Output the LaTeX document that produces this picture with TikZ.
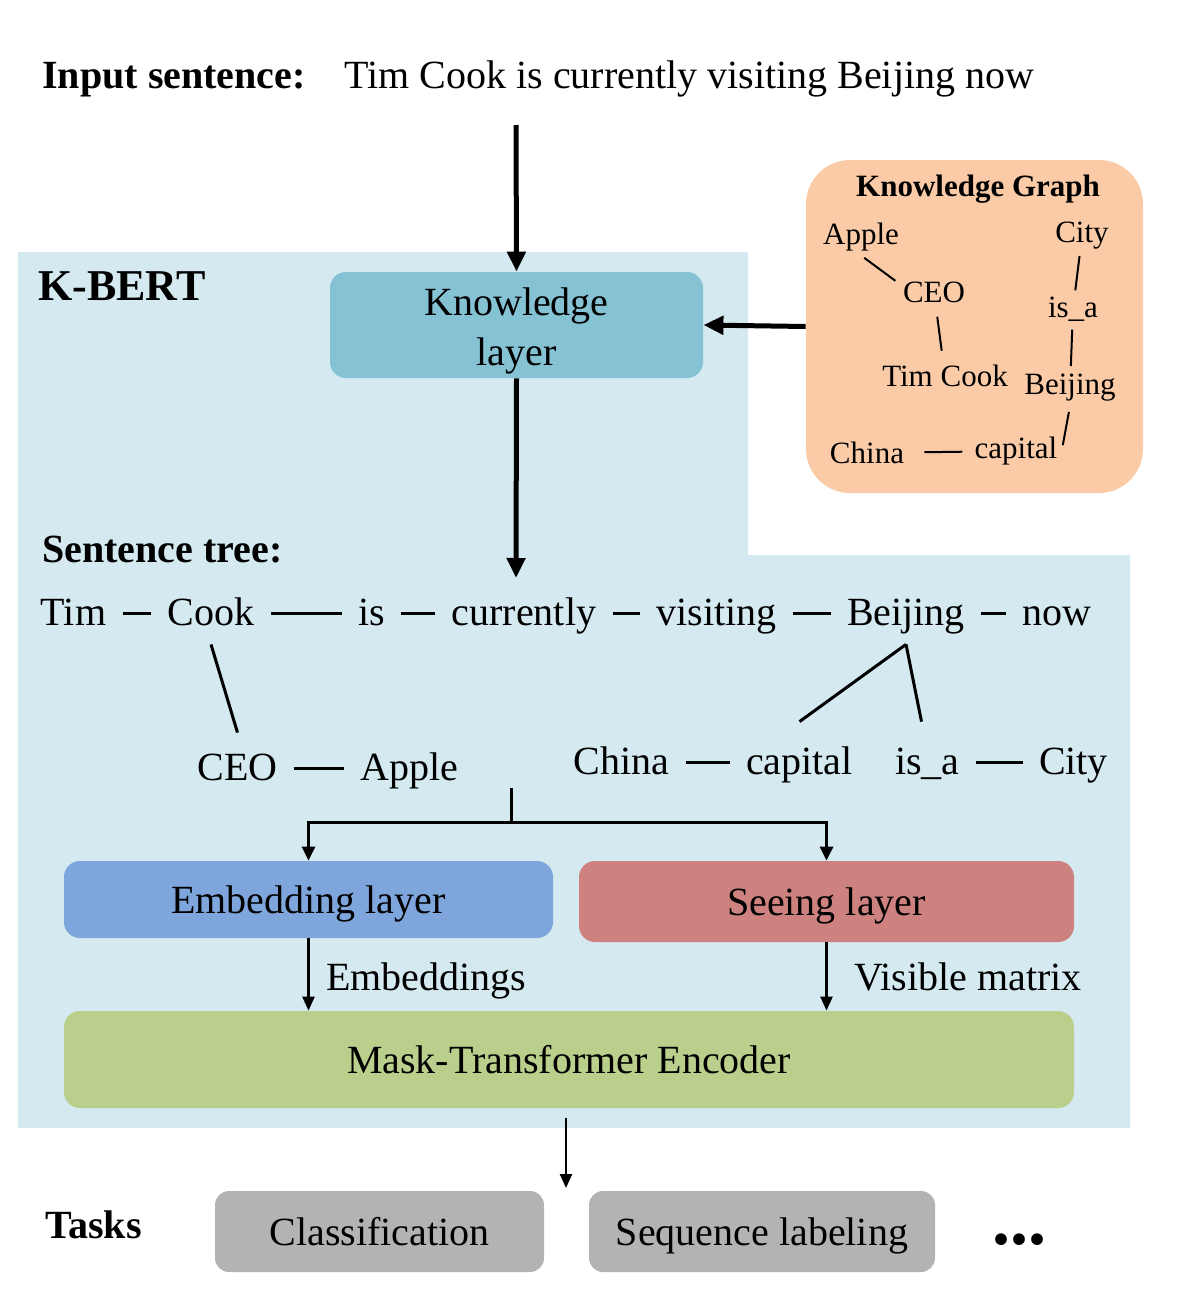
\documentclass[tikz,border=0pt]{standalone}
\usepackage{fontspec}
\setmainfont{Liberation Serif}
\usetikzlibrary{arrows.meta}

\definecolor{kbertblue}{HTML}{D4E9F0}
\definecolor{klayerblue}{HTML}{84C2D4}
\definecolor{kgorange}{HTML}{FACBA6}
\definecolor{embedblue}{HTML}{7EA6DC}
\definecolor{seeingred}{HTML}{CE8280}
\definecolor{maskgreen}{HTML}{B9CF8B}
\definecolor{taskgray}{HTML}{B3B3B3}

\begin{document}
\begin{tikzpicture}[x=0.5pt,y=-0.5pt,
    every node/.style={font=\fontsize{20}{24}\selectfont},
    layerbox/.style={rounded corners=8pt,inner sep=0pt,align=center,text height=14pt,text depth=0pt},
    word/.style={text height=14pt,text depth=2pt,inner xsep=8pt,inner ysep=3pt},
    kgword/.style={font=\fontsize{15.5}{18}\selectfont,inner sep=2pt},
    bigarrow/.style={line width=2.5pt,-{Triangle[length=10pt,width=9pt]}},
    midarrow/.style={line width=1.5pt,-{Triangle[length=7pt,width=6.5pt]}},
    thinarrow/.style={line width=1.2pt,-{Triangle[length=7pt,width=6pt]}},
    treeline/.style={line width=1.5pt},
    kgline/.style={line width=1pt}]
    \useasboundingbox (0,0) rectangle (1184,1306);

    % K-BERT area
    \fill[kbertblue] (18,252) -- (748,252) -- (748,555) -- (1130,555) -- (1130,1128) -- (18,1128) -- cycle;

    % input
    \node[anchor=base west,inner sep=0pt,font=\bfseries\fontsize{20}{24}\selectfont] (inlabel) at (42,88) {Input sentence:};
    \node[anchor=base west,inner sep=0pt] (insent) at (344,88) {Tim Cook is currently visiting Beijing now};
    \coordinate (intop) at (516,125);

    \node[anchor=base west,inner sep=0pt,font=\bfseries\fontsize{22}{26}\selectfont] (kbert) at (38,300) {K-BERT};
    \node[rounded corners=8pt,inner sep=0pt,align=center,fill=klayerblue,minimum width=186.5pt,minimum height=53pt] (klayer) at (516.5,325) {\raisebox{-3pt}[\height][\depth]{\shortstack{Knowledge\\[4pt]layer}}};

    % knowledge graph
    \node[rounded corners=22pt,fill=kgorange,minimum width=168.5pt,minimum height=166.5pt] (kg) at (974.5,326.5) {};
    \node[kgword,font=\bfseries\fontsize{15.5}{18}\selectfont] (kgtitle) at (978,189) {Knowledge Graph};
    \node[kgword] (kgapple) at (861,237) {Apple};
    \node[kgword] (kgcity) at (1082,236) {City};
    \node[kgword] (kgceo) at (934,292) {CEO};
    \node[kgword] (kgisa) at (1073,309) {is\_a};
    \node[kgword] (kgtim) at (945,376) {Tim Cook};
    \node[kgword] (kgbeijing) at (1070,388) {Beijing};
    \node[kgword] (kgchina) at (867,453) {China};
    \node[kgword] (kgcapital) at (1016,451) {capital};

    \path [kgline,shorten <=2pt,shorten >=2pt](kgapple.south) edge ([yshift=-3pt]kgceo.north west);
    \path [kgline,shorten <=5pt,shorten >=5pt](kgceo) edge (kgtim);
    \path [kgline,shorten <=1pt,shorten >=1pt](kgcity) edge (kgisa);
    \path [kgline,shorten <=2pt,shorten >=2pt](kgisa) edge (kgbeijing);
    \path [kgline,shorten <=3pt,shorten >=3pt](kgbeijing.south) edge (kgcapital.east);
    \path [kgline,shorten <=8pt,shorten >=4pt](kgchina) edge (kgcapital);

    % sentence tree
    \node[anchor=base west,inner sep=0pt,font=\bfseries\fontsize{20}{24}\selectfont] (treelabel) at (42,562) {Sentence tree:};
    \coordinate (treetop) at (516,578);

    \node[word] (ttim) at (73.5,613) {Tim};
    \node[word] (tcook) at (211,613) {Cook};
    \node[word] (tis) at (371.5,613) {is};
    \node[word] (tcurrently) at (524,613) {currently};
    \node[word] (tvisiting) at (716.5,613) {visiting};
    \node[word] (tbeijing) at (906,613) {Beijing};
    \node[word] (tnow) at (1056.5,613) {now};

    \node[word] (tceo) at (237.5,768) {CEO};
    \node[word] (tapple) at (409,768) {Apple};
    \node[word] (tchina) at (621.5,762) {China};
    \node[word] (tcapital) at (799.5,762) {capital};
    \node[word] (tisa) at (927.5,762) {is\_a};
    \node[word] (tcity) at (1073.5,762) {City};

    \path [treeline](ttim) edge (tcook);
    \path [treeline](tcook) edge (tis);
    \path [treeline](tis) edge (tcurrently);
    \path [treeline](tcurrently) edge (tvisiting);
    \path [treeline](tvisiting) edge (tbeijing);
    \path [treeline](tbeijing) edge (tnow);
    \path [treeline]([yshift=-4.5pt]tcook.south) edge ([yshift=6.5pt]tceo.north);
    \path [treeline](tceo) edge (tapple);
    \path [treeline]([yshift=-4.5pt]tbeijing.south) edge ([yshift=9pt]tcapital.north);
    \path [treeline]([yshift=-4.5pt]tbeijing.south) edge ([xshift=-3pt,yshift=9pt]tisa.north);
    \path [treeline](tchina) edge (tcapital);
    \path [treeline](tisa) edge (tcity);

    % layers
    \node[layerbox,fill=embedblue,minimum width=244.5pt,minimum height=38.5pt] (embed) at (308.5,899.5) {Embedding layer};
    \node[layerbox,fill=seeingred,minimum width=247.5pt,minimum height=40.5pt] (seeing) at (826.5,901.5) {Seeing layer};
    \node[layerbox,fill=maskgreen,minimum width=505pt,minimum height=48.5pt] (mask) at (569,1059.5) {Mask-Transformer Encoder};
    \coordinate (treebottom) at (511,788);

    % tasks
    \node[anchor=base west,inner sep=0pt,font=\bfseries\fontsize{20}{24}\selectfont] (tasks) at (45,1238) {Tasks};
    \node[layerbox,rounded corners=7pt,fill=taskgray,minimum width=164.5pt,minimum height=40.5pt] (classif) at (379.5,1231.5) {Classification};
    \node[layerbox,rounded corners=7pt,fill=taskgray,minimum width=173pt,minimum height=40.5pt] (seqlab) at (762,1231.5) {Sequence labeling};
    \node[anchor=base west,inner sep=0pt,font=\bfseries\fontsize{36}{40}\selectfont] (moretasks) at (992,1244) {...};
    \coordinate (taskin) at (566,1188);

    % arrows
    \draw[bigarrow] (intop) -- (klayer.north);
    \draw[bigarrow] (kg.west) -- (klayer.east);
    \draw[bigarrow] (klayer.south) -- (treetop);
    \draw[midarrow] (treebottom) -- ++(0,34) -| (embed.north);
    \draw[midarrow] (treebottom) -- ++(0,34) -| (seeing.north);
    \draw[thinarrow] (embed.south) -- (embed.south |- mask.north) node[midway,right,xshift=5pt,yshift=-3pt] {Embeddings};
    \draw[thinarrow] (seeing.south) -- (seeing.south |- mask.north) node[midway,right,xshift=10pt] {Visible matrix};
    \draw[thinarrow] (taskin |- mask.south) ++(0,10) -- (taskin);
\end{tikzpicture}
\end{document}
